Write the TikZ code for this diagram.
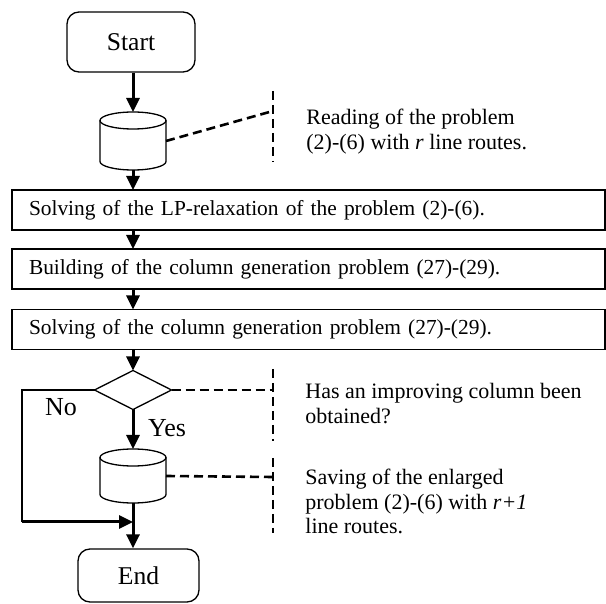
\documentclass[tikz,border=0pt]{standalone}
\usepackage{fontspec}
\setmainfont{Liberation Serif}
\usetikzlibrary{shapes.geometric,arrows.meta}

\tikzset{
	flow/.style={line width=1.5pt, -{Triangle[length=7pt,width=6.5pt]}},
	stepbox/.style={draw, line width=0.65pt, anchor=west, outer sep=0pt, minimum height=20pt, text width=279.5pt, inner xsep=8.5pt, align=left, font=\fontsize{10.7}{13}\selectfont},
	terminal/.style={draw, line width=0.65pt, rounded corners=6pt, font=\fontsize{12.8}{15}\selectfont},
	disk/.style={rectangle, minimum width=33pt, minimum height=29pt, inner sep=0pt, outer sep=0pt},
	diskline/.style={line width=0.65pt},
	note/.style={line width=1.3pt, dash pattern=on 4.5pt off 2.5pt},
	notetext/.style={anchor=north west, inner sep=0pt, align=left, font=\fontsize{11}{12.25}\selectfont}
}

\begin{document}
\begin{tikzpicture}[x=0.5pt, y=-0.5pt]

	\useasboundingbox (0,0) rectangle (606,604);

	\node[terminal, minimum width=64pt, minimum height=30pt] (start) at (131,42) {Start};
	\node[disk] (cyl1) at (133,141) {};
	\node[stepbox] (box1) at (12,210) {Solving of the LP-relaxation of the problem (2)-(6).};
	\node[stepbox] (box2) at (12,269) {Building of the column generation problem (27)-(29).};
	\node[stepbox] (box3) at (12,329.5) {Solving of the column generation problem (27)-(29).};
	\node[draw, diamond, line width=0.65pt, minimum width=38.5pt, minimum height=19.5pt, inner sep=0pt, outer sep=0pt] (dec) at (133,390) {};
	\node[disk, minimum height=27pt] (cyl2) at (133,476) {};
	\node[terminal, minimum width=60.5pt, minimum height=26.5pt] (end) at (138.5,575.5) {End};

	\draw[diskline] ([yshift=-4.25pt]cyl1.north) ellipse [x radius=16.5pt, y radius=4.25pt];
	\draw[diskline] ([yshift=-4.25pt]cyl1.north west) -- ([yshift=4.25pt]cyl1.south west) arc [start angle=180, end angle=360, x radius=16.5pt, y radius=4.25pt] -- ([yshift=-4.25pt]cyl1.north east);
	\draw[diskline] ([yshift=-4.25pt]cyl2.north) ellipse [x radius=16.5pt, y radius=4.25pt];
	\draw[diskline] ([yshift=-4.25pt]cyl2.north west) -- ([yshift=4.25pt]cyl2.south west) arc [start angle=180, end angle=360, x radius=16.5pt, y radius=4.25pt] -- ([yshift=-4.25pt]cyl2.north east);

	\node[font=\fontsize{13}{16}\selectfont] (yes) at (167,428) {Yes};
	\node[font=\fontsize{13}{16}\selectfont] (no) at (61,407) {No};

	\node[notetext] (read) at (306,109) {Reading of the problem\\(2)-(6) with \textit{r} line routes.};
	\node[notetext] (ask) at (305,383) {Has an improving column been\\obtained?};
	\node[notetext] (save) at (305,469) {Saving of the enlarged\\problem (2)-(6) with \textit{r+1}\\line routes.};

	\coordinate (v1) at (273,111);
	\coordinate (v2) at (273,390);
	\coordinate (v3) at (273,477);
	\coordinate (nocorner) at (22,522);
	\coordinate (nojoin) at (133,522);

	\draw[flow] (start.south -| cyl1.north) -- (cyl1.north);
	\draw[flow] (cyl1.south) -- (cyl1.south |- box1.north);
	\draw[flow] (cyl1.south |- box1.south) -- (cyl1.south |- box2.north);
	\draw[flow] (cyl1.south |- box2.south) -- (cyl1.south |- box3.north);
	\draw[flow] (dec.north |- box3.south) -- (dec.north);
	\draw[flow] (dec.south) -- (cyl2.north);
	\draw[flow] (cyl2.south) -- (cyl2.south |- end.north);

	\draw[line width=0.9pt] (dec.west) -| (nocorner);
	\draw[flow] (nocorner) -- (nojoin);

	\draw[note] (cyl1.east) -- (v1);
	\draw[note] (dec.east) -- (v2);
	\draw[note] (cyl2.east) -- (v3);
	\draw[note] (273,91) -- (273,162);
	\draw[note] (273,369) -- (273,441);
	\draw[note] (273,458) -- (273,533);

\end{tikzpicture}
\end{document}
